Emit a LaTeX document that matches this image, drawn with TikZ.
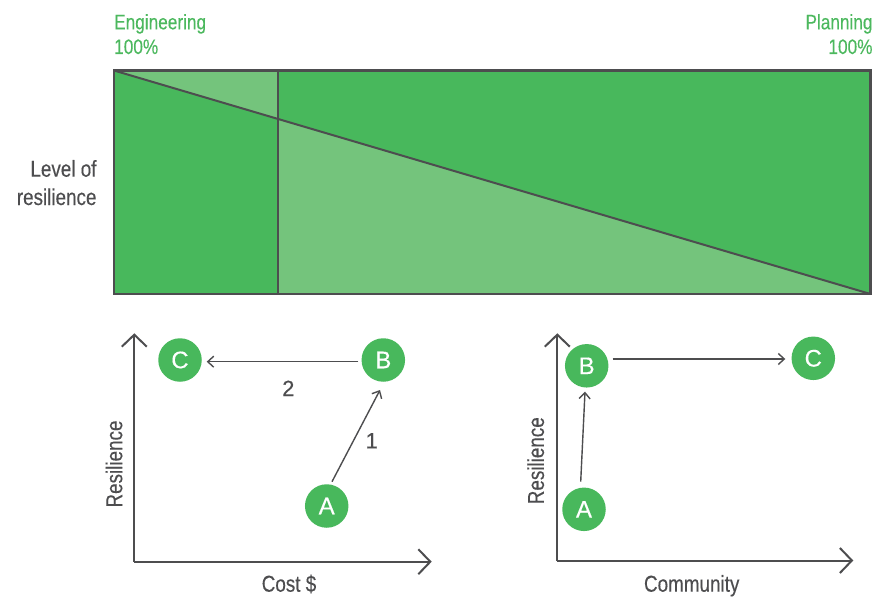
\documentclass[tikz,border=0pt]{standalone}
\usepackage{fontspec}
\setmainfont{Liberation Sans}[FakeStretch=0.82, FakeBold=0.3]
\newfontfamily\wideface{Liberation Sans}[FakeBold=0.3]
\usetikzlibrary{arrows.meta,calc}
\definecolor{darkgreen}{HTML}{48B85C}
\definecolor{lightgreen}{HTML}{74C47C}
\definecolor{labelgreen}{HTML}{4CB85E}
\definecolor{ink}{HTML}{4D4D4F}
\tikzset{
  frameline/.style={draw=ink, line width=2.5pt},
  axis/.style={draw=ink, line width=2pt, -{Straight Barb[length=12pt,width=25pt,line width=2pt]}},
  stepline/.style={draw=ink, line width=1.4pt, -{Straight Barb[length=6pt,width=11pt,line width=1.4pt]}},
  dot/.style={circle, fill=darkgreen, minimum size=43.5pt, inner sep=0pt, text=white, font=\wideface\fontsize{24}{28}\selectfont},
  toplabel/.style={text=labelgreen, font=\fontsize{21}{25}\selectfont, inner sep=0pt},
  graylabel/.style={text=ink, font=\fontsize{23}{27}\selectfont, inner sep=0pt},
  numlabel/.style={text=ink, font=\wideface\fontsize{22}{26}\selectfont, inner sep=0pt, anchor=base}
}
\begin{document}
\begin{tikzpicture}[x=1pt, y=-1pt]
\useasboundingbox (0,0) rectangle (875,599);

% ---- resilience bar ----
\coordinate (tl) at (114,70.5);
\coordinate (br) at (870.5,294);
\coordinate (divtop) at (278.3,70.5);
\coordinate (divbot) at (278.3,294);
\coordinate (divcross) at ($(tl)!{(278.3-114)/(870.5-114)}!(br)$);

\fill[darkgreen] (tl) rectangle (br);
\fill[lightgreen] (tl) -- (divtop) -- (divcross) -- cycle;
\fill[lightgreen] (divcross) -- (br) -- (divbot) -- cycle;
\draw[draw=ink, line width=2pt] (tl) -- (br);
\draw[draw=ink, line width=2pt] (divtop) -- (divbot);
\draw[frameline] (tl) rectangle (br);

\node[toplabel, anchor=base west] (eng) at (114,29.3) {Engineering};
\node[toplabel, anchor=base west] (engpct) at (114,54) {100\%};
\node[toplabel, anchor=base east] (plan) at (872.7,29.3) {Planning};
\node[toplabel, anchor=base east] (planpct) at (872.7,54) {100\%};
\node[graylabel, anchor=base east] (lvl1) at (96.7,176.7) {Level of};
\node[graylabel, anchor=base east] (lvl2) at (96.7,205) {resilience};

% ---- cost chart ----
\coordinate (lo) at (134.3,561.7);
\coordinate (ly) at (134.3,333.3);
\coordinate (lx) at (431.7,561.7);
\draw[axis] (lo) -- (ly);
\draw[axis] (lo) -- (lx);

\node[dot] (lC) at (180,360) {C};
\node[dot] (lB) at (383.3,360) {B};
\node[dot] (lA) at (326.7,506) {A};
\draw[stepline] ($(lB)+(-25,1.7)$) -- ($(lC)+(26.7,1.7)$);
\draw[stepline] ($(lA)+(5.3,-24.3)$) -- ($(lB)+(-3.3,30)$);
\node[numlabel] (n2) at (288.3,396) {2};
\node[numlabel] (n1) at (371.7,448.3) {1};

\node[graylabel, rotate=90] (lres) at (114,464) {Resilience};
\node[graylabel, anchor=base] (cost) at (289,591.7) {Cost \$};

% ---- community chart ----
\coordinate (ro) at (557.3,560.5);
\coordinate (ry) at (557.3,333.3);
\coordinate (rx) at (853.3,560.5);
\draw[axis] (ro) -- (ry);
\draw[axis] (ro) -- (rx);

\node[dot] (rB) at (586.7,365.8) {B};
\node[dot] (rC) at (813.3,358.3) {C};
\node[dot] (rA) at (584,509.3) {A};
\draw[stepline] ($(rA)+(-3.3,-27.6)$) -- ($(rB)+(-1.7,25.9)$);
\draw[stepline] ($(rB)+(26,-6.8)$) -- ($(rC)+(-28,0.7)$);

\node[graylabel, rotate=90] (rres) at (535.7,460.7) {Resilience};
\node[graylabel, anchor=base] (comm) at (691.7,591.7) {Community};
\end{tikzpicture}
\end{document}
